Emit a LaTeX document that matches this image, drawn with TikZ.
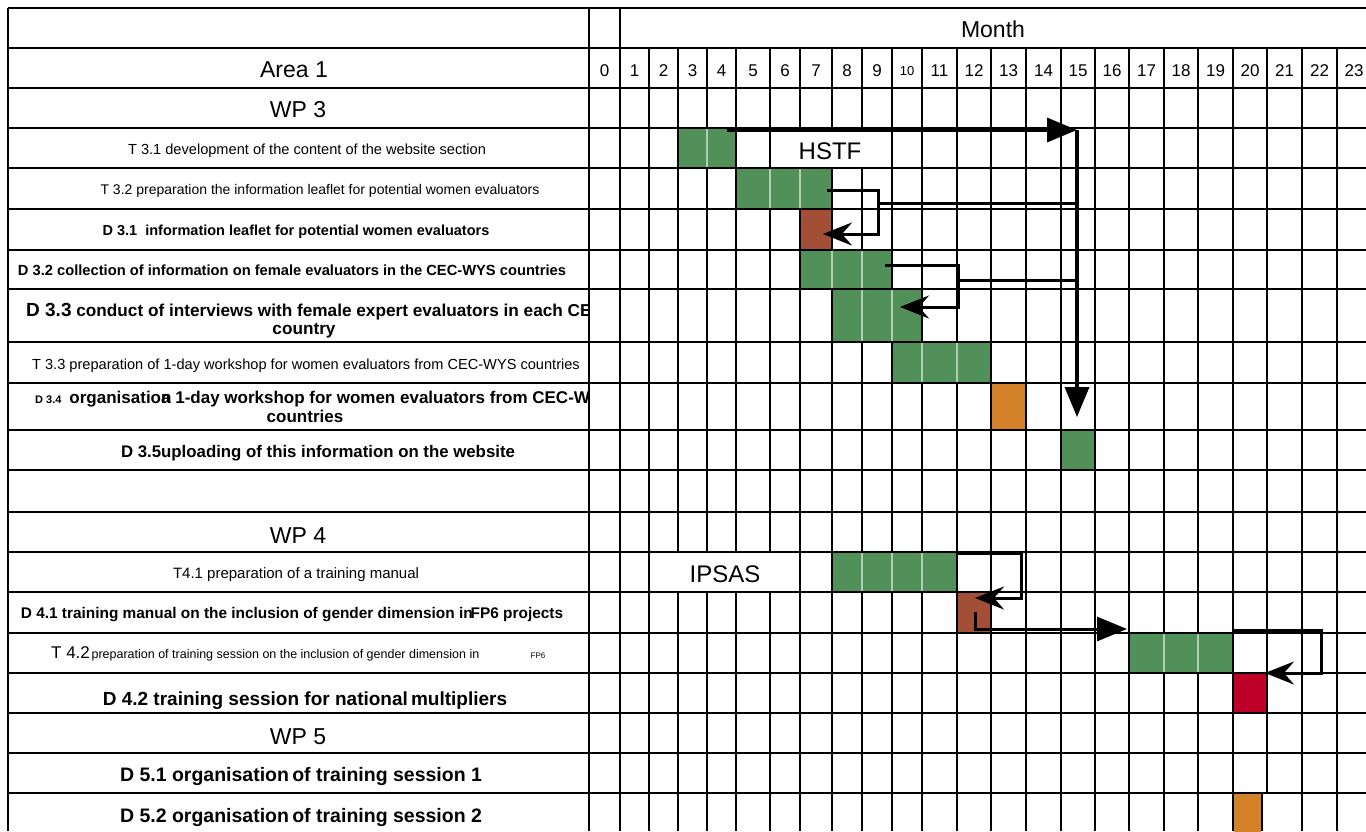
\documentclass[tikz,border=0pt]{standalone}
\usepackage{fontspec}
\setmainfont{Liberation Sans}
\usetikzlibrary{arrows.meta}
\definecolor{gc}{HTML}{52905A}
\definecolor{bc}{HTML}{A34F38}
\definecolor{oc}{HTML}{D4822A}
\definecolor{rc}{HTML}{BE0028}
\begin{document}
\begin{tikzpicture}[x=1pt,y=-1pt,
  gl/.style={line width=1.9pt},
  dvd/.style={line width=1.2pt, draw=#1!45!white},
  hd/.style={inner sep=0pt, anchor=base, font=\fontsize{23}{26}\selectfont},
  tk/.style={inner sep=0pt, anchor=base, font=\fontsize{#1}{17}\selectfont},
  dv/.style={inner sep=0pt, anchor=base, font=\bfseries\fontsize{#1}{17}\selectfont},
  mn/.style={inner sep=0pt, anchor=base, font=\fontsize{17}{20}\selectfont},
  tagbox/.style={fill=white, inner sep=0pt, font=\fontsize{24}{26}\selectfont},
  bigarr/.style={line width=3.5pt, -{Triangle[length=30pt,width=24pt]}},
  brk/.style={line width=3pt, line join=miter},
  brkarr/.style={brk, -{Stealth[length=29pt,width=23pt,inset=10pt]}},
  conn/.style={line width=3pt}
]
\fill[white] (0,0) rectangle (1366,831);
\useasboundingbox (0,0) rectangle (1366,831);

% vertical grid lines
\draw[gl] (8,8) -- (8,831);
\foreach \x in {589,620} \draw[gl] (\x,8) -- (\x,831);
\foreach \x in {649,678,707,736,770,800,832,862,892,922,957,991,1026,1061,1095,1129,1164,1198,1233,1302,1337}
  \draw[gl] (\x,48) -- (\x,831);
\draw[gl] (1267,48) -- (1267,793);
\draw[gl] (1262,793) -- (1262,831);

% coloured cells
\fill[gc] (678.9,128) rectangle (735.1,168);
\draw[dvd=gc] (707,128) -- (707,168);
\fill[gc] (736.9,168) rectangle (831.1,209);
\foreach \x in {770,800} \draw[dvd=gc] (\x,168) -- (\x,209);
\fill[bc] (800.9,209) rectangle (831.1,250);
\fill[gc] (800.9,250) rectangle (891.1,289);
\foreach \x in {832,862} \draw[dvd=gc] (\x,250) -- (\x,289);
\fill[gc] (832.9,289) rectangle (921.1,342);
\foreach \x in {862,892} \draw[dvd=gc] (\x,289) -- (\x,342);
\fill[gc] (892.9,342) rectangle (990.1,383);
\foreach \x in {922,957} \draw[dvd=gc] (\x,342) -- (\x,383);
\fill[oc] (991.9,383) rectangle (1025.1,430);
\fill[gc] (1061.9,430) rectangle (1094.1,470);
\fill[gc] (832.9,552) rectangle (956.1,592);
\foreach \x in {862,892,922} \draw[dvd=gc] (\x,552) -- (\x,592);
\fill[bc] (957.9,592) rectangle (990.1,633);
\fill[gc] (1129.9,633) rectangle (1232.1,673);
\foreach \x in {1164,1198} \draw[dvd=gc] (\x,633) -- (\x,673);
\fill[rc] (1233.9,673) rectangle (1266.1,713);
\fill[oc] (1233.9,793) rectangle (1261.1,833);

% tag boxes
\node[tagbox, minimum width=120pt, minimum height=38pt] (hstfbox) at (831,148) {};
\node[inner sep=0pt, anchor=base, font=\fontsize{24}{26}\selectfont] (hstf) at (830,159) {HSTF};
\node[tagbox, minimum width=148pt, minimum height=38pt] (ipsasbox) at (724,572) {};
\node[inner sep=0pt, anchor=base, font=\fontsize{24}{26}\selectfont] (ipsas) at (725,582) {IPSAS};

% horizontal grid lines
\foreach \y in {8,48,88,128,168,209,250,289,342,383,430,470,512,552,592,633,673,713,753,793}
  \draw[gl] (8,\y) -- (1366,\y);

% header
\node[hd] (month) at (993,37) {Month};
\node[hd] (area) at (294,77) {Area 1};
\foreach \a/\b/\n in {589/620/0,620/649/1,649/678/2,678/707/3,707/736/4,736/770/5,770/800/6,800/832/7,832/862/8,862/892/9,922/957/11,957/991/12,991/1026/13,1026/1061/14,1061/1095/15,1095/1129/16,1129/1164/17,1164/1198/18,1198/1233/19,1233/1267/20,1267/1302/21,1302/1337/22,1337/1371/23}
  \node[mn] (m\n) at ({(\a+\b)/2},76) {\n};
\node[inner sep=0pt, anchor=base, font=\fontsize{13}{15}\selectfont] (m10) at (907,75) {10};

% labels
\node[hd] (wp3) at (298,117) {WP 3};
\node[tk=14.6] (t31) at (307,154) {T 3.1 development of the content of the website section};
\node[tk=14] (t32) at (320,194) {T 3.2 preparation the information leaflet for potential women evaluators};
\node[dv=14.5] (d31) at (296,235) {D 3.1\ \ information leaflet for potential women evaluators};
\node[dv=14.7] (d32) at (292,275) {D 3.2 collection of information on female evaluators in the CEC-WYS countries};
\begin{scope}
  \clip (8,289) rectangle (589,430);
  \node[inner sep=0pt, anchor=base west, font=\bfseries\fontsize{17.2}{20}\selectfont] (d33a) at (26,316)
    {{\fontsize{19}{22}\selectfont D 3.3} conduct of interviews with female expert evaluators in each CEC-WYS};
  \node[inner sep=0pt, anchor=base west, font=\bfseries\fontsize{17}{20}\selectfont] (d34a) at (35,403)
    {{\fontsize{11}{13}\selectfont D 3.4}\hspace{8pt}organisatio\rlap{n}a 1-day workshop for women evaluators from CEC-WYS};
\end{scope}
\node[dv=17.2] (d33b) at (304,334) {country};
\node[tk=14.6] (t33) at (306,369) {T 3.3 preparation of 1-day workshop for women evaluators from CEC-WYS countries};
\node[dv=17] (d34b) at (305,422) {countries};
\node[dv=16.8] (d35) at (318,457) {D 3.5uploading of this information on the website};
\node[hd] (wp4) at (298,543) {WP 4};
\node[tk=15] (t41) at (296,578) {T4.1 preparation of a training manual};
\node[dv=15.4] (d41) at (292,618) {D 4.1 training manual on the inclusion of gender dimension in\kern-2pt FP6 projects};
\node[inner sep=0pt, anchor=base west] (t42) at (51,658)
  {{\fontsize{17}{20}\selectfont T 4.2}\,{\fontsize{12.5}{14}\selectfont preparation of training session on the inclusion of gender dimension in}};
\node[inner sep=0pt, anchor=base, font=\fontsize{8}{10}\selectfont] (fp6) at (538,658) {FP6};
\node[dv=19] (d42) at (305,705) {D 4.2 training session for national\,multipliers};
\node[hd] (wp5) at (298,744) {WP 5};
\node[dv=19.5] (d51) at (301,781) {D 5.1 organisation\,of training session 1};
\node[dv=19.5] (d52) at (301,822) {D 5.2 organisation\,of training session 2};

% connectors
\coordinate (a1s) at (727,130);
\coordinate (a1c) at (1077,130);
\coordinate (a1e) at (1077,417);
\draw[bigarr] (a1s) -- (a1c);
\draw[bigarr] (a1c) -- (a1e);

\coordinate (b1a) at (827,190);
\coordinate (b1b) at (878,190);
\coordinate (b1c) at (878,234);
\coordinate (b1d) at (823,234);
\draw[brkarr] (b1a) -- (b1b) -- (b1c) -- (b1d);
\coordinate (c1a) at (878,203);
\coordinate (c1b) at (1077,203);
\draw[conn] (c1a) -- (c1b);

\coordinate (b2a) at (885,265);
\coordinate (b2b) at (958,265);
\coordinate (b2c) at (958,307);
\coordinate (b2d) at (900,307);
\draw[brkarr] (b2a) -- (b2b) -- (b2c) -- (b2d);
\coordinate (c2a) at (958,280);
\coordinate (c2b) at (1075,280);
\draw[conn] (c2a) -- (c2b);

\coordinate (b3a) at (957,553);
\coordinate (b3b) at (1021,553);
\coordinate (b3c) at (1021,598);
\coordinate (b3d) at (975,598);
\draw[brkarr] (b3a) -- (b3b) -- (b3c) -- (b3d);

\coordinate (b4a) at (975,612);
\coordinate (b4b) at (975,629);
\coordinate (b4c) at (1127,629);
\draw[line width=3pt, line join=miter, -{Triangle[length=30pt,width=24pt]}] (b4a) -- (b4b) -- (b4c);

\coordinate (b5a) at (1232,630);
\coordinate (b5b) at (1321,630);
\coordinate (b5c) at (1321,673);
\coordinate (b5d) at (1265,673);
\draw[brkarr] (b5a) -- (b5b) -- (b5c) -- (b5d);
\end{tikzpicture}
\end{document}
